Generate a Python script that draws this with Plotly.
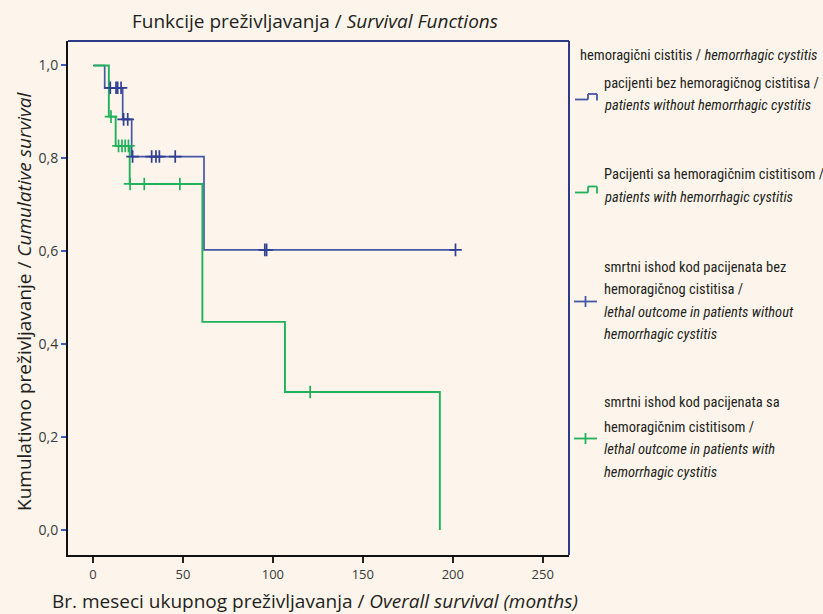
import plotly.graph_objects as go

# ---- data ----
blue_steps_x = [0, 6.5, 16.5, 21.5, 61.7, 201.5]
blue_steps_y = [1.0, 0.952, 0.884, 0.804, 0.603, 0.603]
blue_cens_x = [9.6, 12.8, 13.7, 15.6, 17.0, 19.3, 22.0, 32.6, 35.0, 36.9, 45.7, 95.5, 96.5, 201.5]
blue_cens_y = [0.952, 0.952, 0.952, 0.952, 0.884, 0.884, 0.804, 0.804, 0.804, 0.804, 0.804, 0.603, 0.603, 0.603]

green_steps_x = [0.4, 8.8, 12.6, 20.4, 60.8, 106.7, 192.8]
green_steps_y = [1.0, 0.890, 0.827, 0.745, 0.448, 0.297, 0.0]
green_cens_x = [10.0, 14.2, 16.1, 17.9, 19.7, 20.6, 28.5, 48.3, 120.7]
green_cens_y = [0.890, 0.827, 0.827, 0.827, 0.827, 0.745, 0.745, 0.745, 0.297]

x_ticks = [0, 50, 100, 150, 200, 250]
y_ticks = [0.0, 0.2, 0.4, 0.6, 0.8, 1.0]
y_tick_text = ["0,0", "0,2", "0,4", "0,6", "0,8", "1,0"]

BLUE = "#4657a6"
BLUE_D = "#2f3f93"
GREEN = "#21b15a"
BG = "#fdf5ec"
TXT = "#231f20"
NAVY = "#2d3b86"

W, H = 823, 614
L, R, T, B = 68, 569, 41, 555


def px(x):
    return (x - L) / (R - L)


def py(y):
    return (B - y) / (B - T)


fig = go.Figure()
fig.add_trace(go.Scatter(x=blue_steps_x, y=blue_steps_y, mode="lines",
                         line=dict(color=BLUE, width=1.7, shape="hv"), showlegend=False))
fig.add_trace(go.Scatter(x=green_steps_x, y=green_steps_y, mode="lines",
                         line=dict(color=GREEN, width=1.9, shape="hv"), showlegend=False))
fig.add_trace(go.Scatter(x=blue_cens_x, y=blue_cens_y, mode="markers",
                         marker=dict(symbol="cross-thin", size=9,
                                     line=dict(color=BLUE_D, width=1.7)),
                         showlegend=False))
fig.add_trace(go.Scatter(x=green_cens_x, y=green_cens_y, mode="markers",
                         marker=dict(symbol="cross-thin", size=9,
                                     line=dict(color=GREEN, width=1.7)),
                         showlegend=False))

FONT = "Open Sans, Lato, sans-serif"
NARROW = "Liberation Sans Narrow, Roboto Condensed, Roboto, sans-serif"

fig.update_layout(
    width=W, height=H,
    margin=dict(l=L, r=W - R, t=T, b=H - B),
    paper_bgcolor=BG, plot_bgcolor=BG,
    showlegend=False,
    xaxis=dict(range=[-13.9, 264.6], tickvals=x_ticks, showgrid=False, zeroline=False,
               showline=True, linecolor="#111111", linewidth=2,
               ticks="outside", ticklen=6, tickwidth=1.6, tickcolor="#222222",
               tickfont=dict(family=FONT, size=13, color="#3a3a3a")),
    yaxis=dict(range=[-0.0538, 1.0527], tickvals=y_ticks, ticktext=y_tick_text,
               showgrid=False, zeroline=False,
               showline=True, linecolor="#111111", linewidth=2,
               ticks="outside", ticklen=5, tickwidth=1.6, tickcolor="#3b5fc0",
               tickfont=dict(family=FONT, size=14, color="#3a3a3a")),
)

# top and right frame (navy)
fig.add_shape(type="line", xref="paper", yref="paper", x0=0, x1=1, y0=1, y1=1,
              line=dict(color=NAVY, width=2))
fig.add_shape(type="line", xref="paper", yref="paper", x0=1, x1=1, y0=0, y1=1,
              line=dict(color=NAVY, width=2))

ann = []
ann.append(dict(text="Funkcije preživljavanja / <i>Survival Functions</i>",
                x=px(315), y=py(21), xref="paper", yref="paper", showarrow=False,
                xanchor="center", yanchor="middle", font=dict(family=FONT, size=19, color=TXT)))
ann.append(dict(text="Kumulativno preživljavanje / <i>Cumulative survival</i>",
                x=px(24), y=py(302), xref="paper", yref="paper", showarrow=False,
                textangle=-90, xanchor="center", yanchor="middle",
                font=dict(family=FONT, size=19, color=TXT)))
ann.append(dict(text="Br. meseci ukupnog preživljavanja / <i>Overall survival (months)</i>",
                x=px(315), y=py(601), xref="paper", yref="paper", showarrow=False,
                xanchor="center", yanchor="middle", font=dict(family=FONT, size=19, color=TXT)))

# legend (drawn manually)
LEG_SIZE = 14.5
legend_header = "hemoragični cistitis / <i>hemorrhagic cystitis</i>"
ann.append(dict(text=legend_header, x=px(578), y=py(55), xref="paper", yref="paper",
                showarrow=False, xanchor="left", yanchor="middle",
                font=dict(family=NARROW, size=LEG_SIZE, color=TXT)))

legend_lines = [
    ("pacijenti bez hemoragičnog cistitisa /", 83),
    ("<i>patients without hemorrhagic cystitis</i>", 105),
    ("Pacijenti sa hemoragičnim cistitisom /", 175),
    ("<i>patients with hemorrhagic cystitis</i>", 197),
    ("smrtni ishod kod pacijenata bez", 267),
    ("hemoragičnog cistitisa /", 289),
    ("<i>lethal outcome in patients without</i>", 312),
    ("<i>hemorrhagic cystitis</i>", 334),
    ("smrtni ishod kod pacijenata sa", 403),
    ("hemoragičnim cistitisom /", 427),
    ("<i>lethal outcome in patients with</i>", 449),
    ("<i>hemorrhagic cystitis</i>", 472),
]
for txt, yy in legend_lines:
    ann.append(dict(text=txt, x=px(602), y=py(yy), xref="paper", yref="paper",
                    showarrow=False, xanchor="left", yanchor="middle",
                    font=dict(family=NARROW, size=LEG_SIZE, color=TXT)))


def step_symbol(color, ylow, yhigh):
    pts = [(575, ylow), (588, ylow), (588, yhigh), (597, yhigh), (597, ylow + 1)]
    for (xa, ya), (xb, yb) in zip(pts[:-1], pts[1:]):
        fig.add_shape(type="line", xref="paper", yref="paper",
                      x0=px(xa), y0=py(ya), x1=px(xb), y1=py(yb),
                      line=dict(color=color, width=1.8))


def cross_symbol(color, yc):
    fig.add_shape(type="line", xref="paper", yref="paper",
                  x0=px(574), x1=px(597), y0=py(yc), y1=py(yc), line=dict(color=color, width=1.8))
    fig.add_shape(type="line", xref="paper", yref="paper",
                  x0=px(585.5), x1=px(585.5), y0=py(yc - 5.5), y1=py(yc + 5.5),
                  line=dict(color=color, width=1.8))


step_symbol(BLUE, 99.5, 94)
step_symbol(GREEN, 192.5, 186.5)
cross_symbol(BLUE, 301.5)
cross_symbol(GREEN, 438.5)

fig.update_layout(annotations=ann)
fig.write_html(
    "out.html",
    config={"displayModeBar": False},
    post_script="document.body.style.margin='0';document.body.style.background='" + BG + "';",
)
